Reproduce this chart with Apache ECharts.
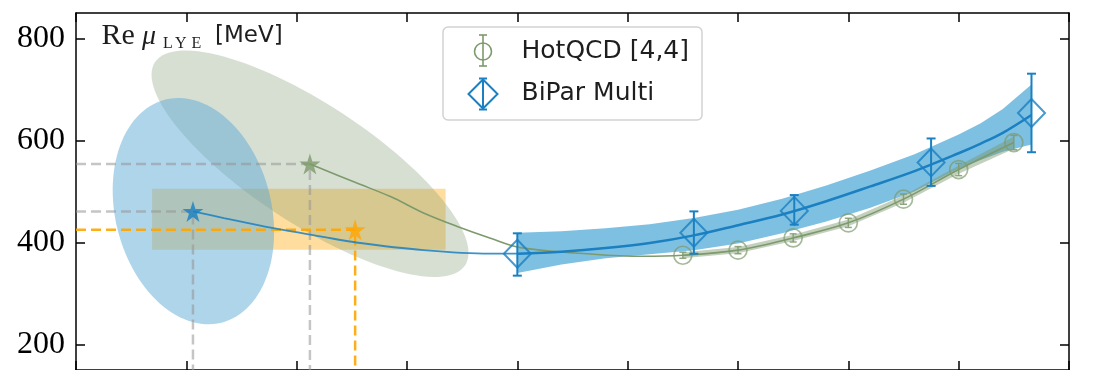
<!DOCTYPE html>
<html><head><meta charset="utf-8">
<script src="https://cdn.jsdelivr.net/npm/echarts@6/dist/echarts.min.js"></script>
<style>html,body{margin:0;padding:0;background:#fff}#c{width:1097px;height:370px}</style>
</head><body><div id="c"></div>
<script>
// ---------------- data ----------------
const yTicks = [200, 400, 600, 800];
const hotT = [145, 150, 155, 160, 165, 170, 175];
const hotV = [375, 385, 409, 438.5, 485, 543, 596];
const hotErr = [6, 7, 8, 9, 10, 12, 14];
const hotBandLo = [369, 379, 403, 432, 478, 535, 584];
const hotBandHi = [381, 391, 415, 445, 492, 551, 608];
const biparT = [130, 146, 155.1, 167.5, 176.6];
const biparV = [378, 419, 462, 557, 654];
const biparLo = [335, 378, 435, 511, 577];
const biparHi = [418, 461, 493, 604, 731];
const fitT = [130, 134, 138, 142, 146, 150, 154, 158, 162, 166, 170, 172, 174, 176.6];
const fitV = [378, 382, 389, 399, 414, 434, 455, 481, 510, 540, 575, 594, 615, 650];
const fitHi = [419, 422, 428, 436, 448, 464, 486, 512, 541, 573, 612, 634, 662, 710];
const fitLo = [340, 357, 369, 377, 385, 398, 418, 441, 468, 500, 545, 562, 578, 592];
const bluePathT = [100.6, 103.4, 107.9, 112.4, 115.4, 121.5, 127.5, 130];
const bluePathV = [461, 448, 428, 411, 400, 385, 378, 378];
const greenPathT = [111.2, 112.1, 115.4, 118.5, 121.5, 124.5, 127.5, 130.3, 136.9, 141.4, 145, 150, 155, 160, 165, 170, 175];
const greenPathV = [554, 546, 517, 490, 458, 432, 409, 390, 377, 373, 375, 385, 409, 438.5, 485, 543, 596];
const starT = [100.6, 111.2, 115.3];
const starV = [461, 554, 425];
const rectT = [96.9, 123.5];
const rectV = [386, 505.5];
const blueEllCenter = [100.64, 461.5], blueEllA = [2.54, -218.7], blueEllB = [-6.86, -37.1];
const greenEllCenter = [111.21, 554.4], greenEllA = [14.05, -199.3], greenEllB = [2.99, 97.9];
const legendNames = ['HotQCD [4,4]', 'BiPar Multi'];

// ---------------- styles ----------------
const BLUE = '#1a80c2', GREEN = '#7d9a6c', ORANGE = '#ffa500';
const STAR = 'path://M50,0 L61.2,34.5 L97.6,34.5 L68.2,55.9 L79.4,90.5 L50,69.1 L20.6,90.5 L31.8,55.9 L2.4,34.5 L38.8,34.5 Z';

function ellipsePts(c, a, b) {
  const pts = [];
  for (let i = 0; i < 120; i++) {
    const t = i / 120 * Math.PI * 2;
    pts.push([c[0] + a[0] * Math.cos(t) + b[0] * Math.sin(t), c[1] + a[1] * Math.cos(t) + b[1] * Math.sin(t)]);
  }
  return pts;
}
function polySeries(pts, style, z) {
  return {
    type: 'custom', coordinateSystem: 'cartesian2d', z: z, silent: true,
    data: [pts[0]],
    renderItem: (p, api) => ({ type: 'polygon', shape: { points: pts.map(q => api.coord(q)), smooth: 0 }, style: style })
  };
}
function bandPts(xs, lo, hi) {
  const pts = xs.map((x, i) => [x, hi[i]]);
  for (let i = xs.length - 1; i >= 0; i--) pts.push([xs[i], lo[i]]);
  return pts;
}
function errSeries(xs, lo, hi, color, lw, cap, z) {
  return {
    type: 'custom', coordinateSystem: 'cartesian2d', z: z, silent: true,
    data: xs.map((x, i) => [x, lo[i], hi[i]]),
    encode: { x: 0, y: [1, 2] },
    renderItem: (p, api) => {
      const x = api.value(0);
      const a = api.coord([x, api.value(1)]), b = api.coord([x, api.value(2)]);
      const st = { stroke: color, lineWidth: lw };
      return { type: 'group', children: [
        { type: 'line', shape: { x1: a[0], y1: a[1], x2: b[0], y2: b[1] }, style: st },
        { type: 'line', shape: { x1: a[0] - cap, y1: a[1], x2: a[0] + cap, y2: a[1] }, style: st },
        { type: 'line', shape: { x1: b[0] - cap, y1: b[1], x2: b[0] + cap, y2: b[1] }, style: st }
      ] };
    }
  };
}
function dashed(pts, color, width, dash, z) {
  return { type: 'line', data: pts, symbol: 'none', silent: true, z: z,
    lineStyle: { color: color, width: width, type: dash } };
}

const axisCommon = {
  type: 'value',
  axisLine: { show: true, onZero: false, lineStyle: { color: '#000', width: 1.5 } },
  axisTick: { show: true, inside: true, length: 9, lineStyle: { color: '#000', width: 1.5 } },
  splitLine: { show: false }
};

const series = [
  polySeries([[rectT[0], rectV[0]], [rectT[1], rectV[0]], [rectT[1], rectV[1]], [rectT[0], rectV[1]]],
    { fill: 'rgba(255,165,0,0.38)' }, 1),
  polySeries(ellipsePts(greenEllCenter, greenEllA, greenEllB), { fill: 'rgba(122,150,110,0.3)' }, 2),
  polySeries(ellipsePts(blueEllCenter, blueEllA, blueEllB), { fill: 'rgba(95,172,214,0.5)' }, 3),
  polySeries(bandPts(fitT, fitLo, fitHi), { fill: 'rgba(40,150,205,0.6)' }, 4),
  polySeries(bandPts(hotT, hotBandLo, hotBandHi), { fill: 'rgba(122,150,110,0.45)' }, 4),
  // dashed guide lines
  dashed([[90, starV[0]], [starT[0], starV[0]], [starT[0], 150]], 'rgba(150,150,150,0.55)', 2.5, [10, 5], 5),
  dashed([[90, starV[1]], [starT[1], starV[1]], [starT[1], 150]], 'rgba(150,150,150,0.55)', 2.5, [10, 5], 5),
  dashed([[90, starV[2]], [starT[2], starV[2]], [starT[2], 150]], 'rgba(255,165,0,0.9)', 2.5, [10, 5], 5),
  // curves
  { type: 'line', data: greenPathT.map((t, i) => [t, greenPathV[i]]), symbol: 'none', smooth: 0.35, silent: true, z: 6,
    lineStyle: { color: GREEN, width: 1.6 } },
  { type: 'line', data: bluePathT.map((t, i) => [t, bluePathV[i]]), symbol: 'none', smooth: 0.35, silent: true, z: 6,
    lineStyle: { color: 'rgba(26,128,194,0.85)', width: 1.8 } },
  { type: 'line', data: fitT.map((t, i) => [t, fitV[i]]), symbol: 'none', smooth: 0.35, silent: true, z: 6,
    lineStyle: { color: BLUE, width: 2.5 } },
  // HotQCD points
  errSeries(hotT, hotT.map((t, i) => hotV[i] - hotErr[i]), hotT.map((t, i) => hotV[i] + hotErr[i]), 'rgba(125,154,108,0.85)', 1.5, 3.5, 7),
  { name: legendNames[0], type: 'scatter', data: hotT.map((t, i) => [t, hotV[i]]), symbol: 'circle', symbolSize: 18, z: 7, silent: true,
    itemStyle: { color: 'rgba(0,0,0,0)', borderColor: 'rgba(125,154,108,0.85)', borderWidth: 1.7 } },
  // BiPar points
  errSeries(biparT, biparLo, biparHi, BLUE, 2, 4.5, 8),
  { name: legendNames[1], type: 'scatter', data: biparT.map((t, i) => [t, biparV[i]]), symbol: 'diamond', symbolSize: [27, 28], z: 8, silent: true,
    itemStyle: { color: 'rgba(0,0,0,0)', borderColor: BLUE, borderWidth: 2 } },
  // stars
  { type: 'scatter', data: [
      { value: [starT[0], starV[0]], itemStyle: { color: BLUE } },
      { value: [starT[1], starV[1]], itemStyle: { color: GREEN } },
      { value: [starT[2], starV[2]], itemStyle: { color: ORANGE } }
    ], symbol: STAR, symbolSize: 21, z: 9, silent: true }
];

const lx = 483;
function txt(s, x, y, size, family, extra) {
  return { type: 'text', x: x, y: y, z: 21, silent: true,
    style: Object.assign({ text: s, fontSize: size, fontFamily: family, fill: '#1e1e1e', align: 'left', verticalAlign: 'middle' }, extra || {}) };
}
const option = {
  animation: false,
  grid: { left: 76, right: 28, top: 13, bottom: -1, containLabel: false },
  xAxis: [
    Object.assign({}, axisCommon, { min: 90, max: 180, interval: 10, position: 'bottom', axisLabel: { show: false } }),
    Object.assign({}, axisCommon, { min: 90, max: 180, interval: 10, position: 'top', axisLabel: { show: false } })
  ],
  yAxis: [
    Object.assign({}, axisCommon, { min: 150, max: 850, position: 'left',
      axisTick: Object.assign({}, axisCommon.axisTick, { customValues: yTicks }),
      axisLabel: { customValues: yTicks, margin: 11, color: '#000', fontFamily: 'Liberation Serif', fontSize: 32 } }),
    Object.assign({}, axisCommon, { min: 150, max: 850, position: 'right',
      axisTick: Object.assign({}, axisCommon.axisTick, { customValues: yTicks }),
      axisLabel: { show: false } })
  ],
  series: series,
  graphic: [
    txt('Re', 101.5, 36, 30, 'Liberation Serif'),
    txt('μ', 142, 36.5, 28, 'Liberation Serif', { fontStyle: 'italic' }),
    txt('L', 163, 43.5, 16, 'Liberation Serif'),
    txt('Y', 175, 43.5, 16, 'Liberation Serif'),
    txt('E', 191.5, 43.5, 16, 'Liberation Serif'),
    txt('[MeV]', 215, 36.5, 23, 'DejaVu Sans'),
    { type: 'rect', z: 20, silent: true, shape: { x: 443, y: 27, width: 259, height: 93, r: 5 },
      style: { fill: 'rgba(255,255,255,0.85)', stroke: '#d2d2d2', lineWidth: 1.5 } },
    { type: 'circle', z: 21, silent: true, shape: { cx: lx, cy: 51.5, r: 8.5 }, style: { fill: 'none', stroke: GREEN, lineWidth: 1.6 } },
    { type: 'line', z: 21, silent: true, shape: { x1: lx, y1: 35, x2: lx, y2: 66 }, style: { stroke: GREEN, lineWidth: 1.6 } },
    { type: 'line', z: 21, silent: true, shape: { x1: lx - 4, y1: 35, x2: lx + 4, y2: 35 }, style: { stroke: GREEN, lineWidth: 1.6 } },
    { type: 'line', z: 21, silent: true, shape: { x1: lx - 4, y1: 66, x2: lx + 4, y2: 66 }, style: { stroke: GREEN, lineWidth: 1.6 } },
    { type: 'polygon', z: 21, silent: true, shape: { points: [[lx, 79.5], [lx + 14.5, 94], [lx, 108.5], [lx - 14.5, 94]] }, style: { fill: 'none', stroke: BLUE, lineWidth: 2 } },
    { type: 'line', z: 21, silent: true, shape: { x1: lx, y1: 78.5, x2: lx, y2: 109.5 }, style: { stroke: BLUE, lineWidth: 2 } },
    { type: 'line', z: 21, silent: true, shape: { x1: lx - 4, y1: 78.5, x2: lx + 4, y2: 78.5 }, style: { stroke: BLUE, lineWidth: 2 } },
    { type: 'line', z: 21, silent: true, shape: { x1: lx - 4, y1: 109.5, x2: lx + 4, y2: 109.5 }, style: { stroke: BLUE, lineWidth: 2 } },
    txt(legendNames[0], 521.5, 51.5, 25, 'DejaVu Sans'),
    txt(legendNames[1], 521.5, 93.5, 25, 'DejaVu Sans')
  ]
};
const chart = echarts.init(document.getElementById('c'), null, { renderer: 'canvas' });
chart.setOption(option);
</script></body></html>
